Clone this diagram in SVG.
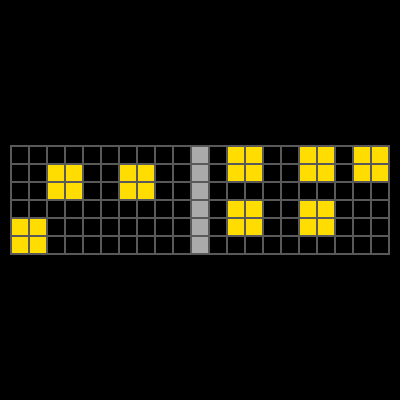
<svg xmlns="http://www.w3.org/2000/svg" width="400" height="400" viewBox="0 0 400 400">
<defs>
<style>
.y{fill:#FFDD00}
.g{fill:#AAAAAA}
.l{stroke:#595959;stroke-width:2;fill:none;stroke-linecap:square}
</style>
</defs>
<rect width="400" height="400" fill="#000"/>
<g id="cells">
<rect class="y" x="11" y="218" width="36" height="36"/>
<rect class="y" x="47" y="164" width="36" height="36"/>
<rect class="y" x="119" y="164" width="36" height="36"/>
<rect class="g" x="191" y="146" width="18" height="108"/>
<rect class="y" x="227" y="146" width="36" height="36"/>
<rect class="y" x="227" y="200" width="36" height="36"/>
<rect class="y" x="299" y="146" width="36" height="36"/>
<rect class="y" x="299" y="200" width="36" height="36"/>
<rect class="y" x="353" y="146" width="36" height="36"/>
</g>
<g id="grid-lines">
<path class="l" d="M11 146V254M29 146V254M47 146V254M65 146V254M83 146V254M101 146V254M119 146V254M137 146V254M155 146V254M173 146V254M191 146V254M209 146V254M227 146V254M245 146V254M263 146V254M281 146V254M299 146V254M317 146V254M335 146V254M353 146V254M371 146V254M389 146V254"/>
<path class="l" d="M11 146H389M11 164H389M11 182H389M11 200H389M11 218H389M11 236H389M11 254H389"/>
</g>
</svg>
